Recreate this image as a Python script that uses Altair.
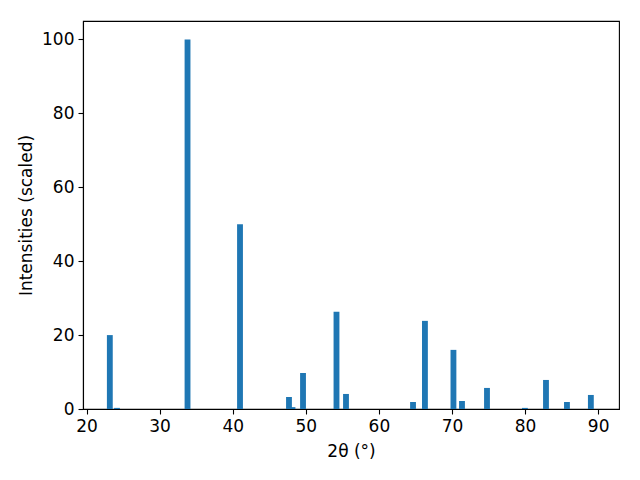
import altair as alt
import pandas as pd

two_theta = [23.19, 24.17, 33.82, 41.0, 47.70, 48.18, 49.62, 54.2, 55.5,
             64.67, 66.3, 70.2, 71.37, 74.79, 79.98, 82.86, 85.73, 89.0]
intensity = [20.0, 0.3, 100.0, 50.0, 3.25, 0.5, 9.75, 26.3, 4.07,
             1.9, 23.85, 16.0, 2.17, 5.7, 0.3, 7.86, 1.9, 3.8]
x_ticks = [20, 30, 40, 50, 60, 70, 80, 90]
y_ticks = [0, 20, 40, 60, 80, 100]

df = pd.DataFrame({"pos": two_theta, "val": intensity})

font = "DejaVu Sans"

chart = alt.Chart(df).transform_calculate(
    x0="datum.pos - 0.4", x1="datum.pos + 0.4", base="0"
).mark_bar(color="#1f77b4").encode(
    x=alt.X("x0:Q", scale=alt.Scale(domain=[19.52, 92.85], nice=False, zero=False),
            axis=alt.Axis(values=x_ticks, title="2θ (°)", grid=False,
                          format="d", titlePadding=9)),
    x2="x1:Q",
    y=alt.Y("val:Q", scale=alt.Scale(domain=[0, 105], nice=False),
            axis=alt.Axis(values=y_ticks, title="Intensities (scaled)", grid=False)),
    y2="base:Q",
).properties(
    width=536, height=388,
    padding={"left": 75, "top": 13, "right": 13, "bottom": 63},
    autosize=alt.AutoSizeParams(type="none"),
).configure_view(
    stroke="black", strokeWidth=1.1
).configure_axis(
    domainColor="black", domainWidth=1.1, tickColor="black", tickWidth=1.1,
    tickSize=5, labelFont=font, titleFont=font, labelFontSize=17,
    titleFontSize=17, labelColor="black", titleColor="black",
    titleFontWeight="normal", labelPadding=4, titlePadding=6,
)

chart.save("out.html", embed_options={"renderer": "svg", "actions": False})
